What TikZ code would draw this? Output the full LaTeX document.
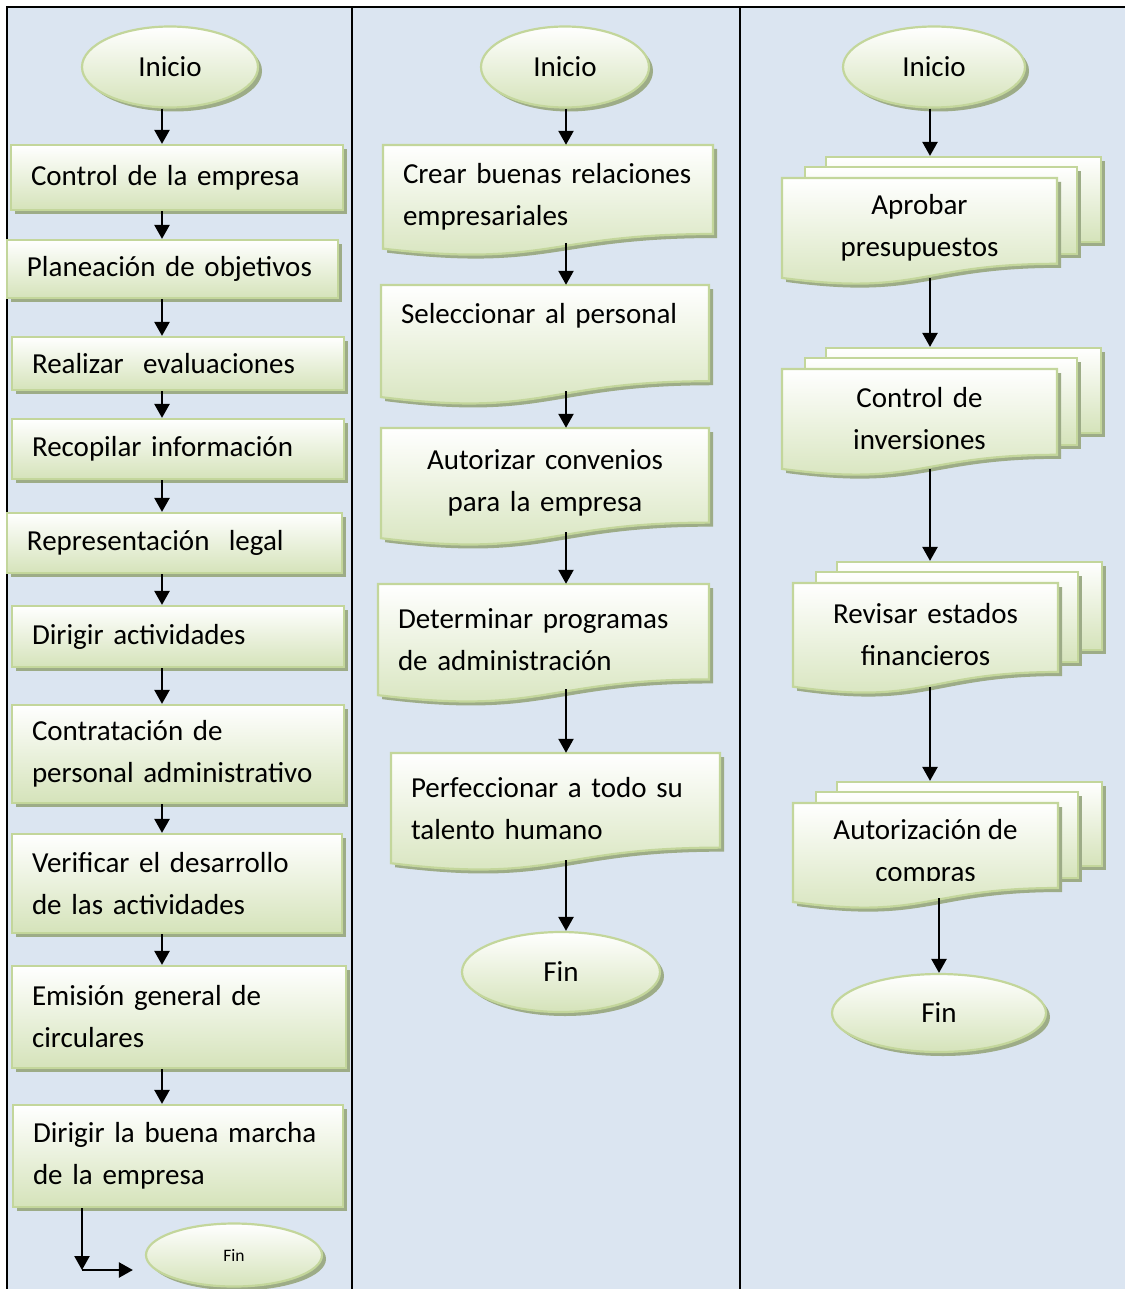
\documentclass[tikz,border=0pt]{standalone}
\usepackage{fontspec}
\setmainfont{Carlito}
\usetikzlibrary{shapes.geometric,shadows,arrows.meta,calc}

\definecolor{panelblue}{RGB}{219,229,241}
\definecolor{edgegreen}{RGB}{195,214,155}
\definecolor{fillgreen}{RGB}{213,227,186}
\definecolor{shadegreen}{RGB}{157,172,135}

\newcommand\flowfont{\fontsize{29}{42}\selectfont}
\newcommand\smallflowfont{\fontsize{17.5}{21}\selectfont}

\tikzset{
  shape base/.style={draw=edgegreen, line width=2.2pt, top color=white, bottom color=fillgreen,
    drop shadow={shadow xshift=4pt, shadow yshift=-4pt, fill=shadegreen, opacity=1}},
  procbox/.style={shape base, rectangle, inner xsep=20pt, inner ysep=0pt, align=left, font=\flowfont},
  termnode/.style={shape base, ellipse, inner sep=0pt, font=\flowfont},
  doctext/.style={inner xsep=20pt, inner ysep=0pt, font=\flowfont},
  flowarrow/.style={line width=2.4pt, -{Triangle[width=15pt,length=14pt]}},
  frameline/.style={line width=2.5pt, black},
}

% process box: name, left, top, right, bottom, text
\newcommand\procstep[6]{%
  \pgfmathsetmacro\fcw{#4-#2}%
  \pgfmathsetmacro\fch{#5-#3}%
  \pgfmathsetmacro\fct{#4-#2-40}%
  \node[procbox, minimum width=\fcw pt, minimum height=\fch pt, text width=\fct pt]
    (#1) at ({(#2+#4)/2},{(#3+#5)/2}) {#6};%
}

% document shape: name, left, top, right, height, alignment, text
\newcommand\docstep[7]{%
  \pgfmathsetmacro\fcxm{(#2+#4)/2}%
  \pgfmathsetmacro\fcyr{#3+0.802*#5}%
  \pgfmathsetmacro\fcyl{#3+0.934*#5}%
  \pgfmathsetmacro\fcyc{#3+1.107*#5}%
  \pgfmathsetmacro\fcyt{#3+0.467*#5}%
  \pgfmathsetmacro\fcw{#4-#2}%
  \pgfmathsetmacro\fch{0.934*#5}%
  \pgfmathsetmacro\fct{#4-#2-40}%
  \path[shape base] (#2,#3) -- (#4,#3) -- (#4,\fcyr)
    .. controls (\fcxm,\fcyr) and (\fcxm,\fcyc) .. (#2,\fcyl) -- cycle;
  \node[doctext, minimum width=\fcw pt, minimum height=\fch pt, text width=\fct pt, align=#6]
    (#1) at (\fcxm,\fcyt) {#7};%
}

% stacked documents: name, left, top, right, height, text
\newcommand\multistep[6]{%
  \pgfmathsetmacro\fcyr{#3+0.802*#5}%
  \pgfmathsetmacro\fcbw{#4-#2}%
  \pgfmathsetmacro\fcbh{\fcyr-22-(#3-21)}%
  \pgfmathsetmacro\fcmw{#4+20-(#2+23)}%
  \pgfmathsetmacro\fcmh{\fcyr-10-(#3-11)}%
  \node[shape base, rectangle, inner sep=0pt, minimum width=\fcbw pt, minimum height=\fcbh pt]
    (#1-back) at ({(#2+#4)/2+44},{(#3-21+\fcyr-22)/2}) {};
  \node[shape base, rectangle, inner sep=0pt, minimum width=\fcmw pt, minimum height=\fcmh pt]
    (#1-mid) at ({(#2+23+#4+20)/2},{(#3-11+\fcyr-10)/2}) {};
  \docstep{#1}{#2}{#3}{#4}{#5}{center}{#6}%
}

\begin{document}
\begin{tikzpicture}[x=1pt,y=-1pt]
  \useasboundingbox (0,0) rectangle (1125,1289);

  % table background and rules
  \fill[panelblue] (7,7) rectangle (1125,1289);
  \draw[frameline] (7,1289) -- (7,7) -- (1125,7);
  \draw[frameline] (352,7) -- (352,1289);
  \draw[frameline] (740,7) -- (740,1289);

  % arrow columns
  \coordinate (c1) at (162,0);
  \coordinate (c2) at (566,0);
  \coordinate (c3) at (930,0);
  \coordinate (k) at (82,1270);

  % ---------- first column ----------
  \node[termnode, minimum width=176pt, minimum height=81pt] (s1) at (170,67) {Inicio};
  \procstep{b1}{11}{145}{343}{210}{Control de la empresa}
  \procstep{b2}{7}{240}{338}{298}{Planeación de objetivos}
  \procstep{b3}{12}{337}{344}{390}{Realizar\ \ evaluaciones}
  \procstep{b4}{12}{419}{344}{479}{Recopilar información}
  \procstep{b5}{7}{513}{342}{573}{Representación\ \ legal}
  \procstep{b6}{12}{606}{344}{667}{Dirigir actividades}
  \procstep{b7}{12}{705}{344}{803}{Contratación de\\personal administrativo}
  \procstep{b8}{12}{834}{342}{933}{Verificar el desarrollo\\de las actividades}
  \procstep{b9}{12}{966}{346}{1068}{Emisión general de\\circulares}
  \procstep{b10}{13}{1105}{343}{1207}{Dirigir la buena marcha\\de la empresa}
  \node[termnode, font=\smallflowfont, minimum width=176pt, minimum height=63pt] (e1) at (234,1255) {Fin};

  \draw[flowarrow] (s1.south -| c1) -- (b1.north -| c1);
  \foreach \a/\b in {b1/b2,b2/b3,b3/b4,b4/b5,b5/b6,b6/b7,b7/b8,b8/b9,b9/b10}
    \draw[flowarrow] (\a.south -| c1) -- (\b.north -| c1);
  \draw[flowarrow] (b10.south -| k) -- (k);
  \draw[flowarrow] (k) -- ($(k -| e1.west)+(-12,0)$);

  % ---------- second column ----------
  \node[termnode, minimum width=168pt, minimum height=81pt] (s2) at (565,67) {Inicio};
  \docstep{d1}{383}{145}{713}{111}{left}{Crear buenas relaciones\\empresariales}
  \docstep{d2}{381}{285}{709}{120}{left}{Seleccionar al personal\\\strut}
  \docstep{d3}{381}{428}{709}{118}{center}{Autorizar convenios\\para la empresa}
  \docstep{d4}{378}{584}{709}{119}{left}{Determinar programas\\de administración}
  \docstep{d5}{391}{753}{720}{118}{left}{Perfeccionar a todo su\\talento humano}
  \node[termnode, minimum width=198pt, minimum height=80pt] (e2) at (561,972) {Fin};

  \draw[flowarrow] (s2.south -| c2) -- (d1.north -| c2);
  \foreach \a/\b in {d1/d2,d2/d3,d3/d4,d4/d5}
    \draw[flowarrow] ($(\a.south -| c2)+(0,-6)$) -- (\b.north -| c2);
  \draw[flowarrow] ($(d5.south -| c2)+(0,-3)$) -- (e2.north -| c2);

  % ---------- third column ----------
  \node[termnode, minimum width=182pt, minimum height=81pt] (s3) at (934,67) {Inicio};
  \multistep{m1}{782}{178}{1057}{107}{Aprobar\\presupuestos}
  \multistep{m2}{782}{369}{1057}{107}{Control de\\inversiones}
  \multistep{m3}{793}{583}{1058}{111}{Revisar estados\\financieros}
  \multistep{m4}{793}{803}{1058}{106}{}
  \begin{scope}
    \clip (793,795) rectangle (1058,880);
    \node[font=\flowfont, align=center, inner sep=0pt] (m4-label) at (m4.center)
      {Autorización de\\compras};
  \end{scope}
  \node[termnode, minimum width=214pt, minimum height=78pt] (e3) at (939,1013) {Fin};

  \draw[flowarrow] (s3.south -| c3) -- (m1-back.north -| c3);
  \foreach \a/\b in {m1/m2,m2/m3,m3/m4}
    \draw[flowarrow] (\a.south -| c3) -- (\b-back.north -| c3);
  \draw[flowarrow] ($(m4.south -| e3)+(0,-4)$) -- (e3.north);
\end{tikzpicture}
\end{document}
